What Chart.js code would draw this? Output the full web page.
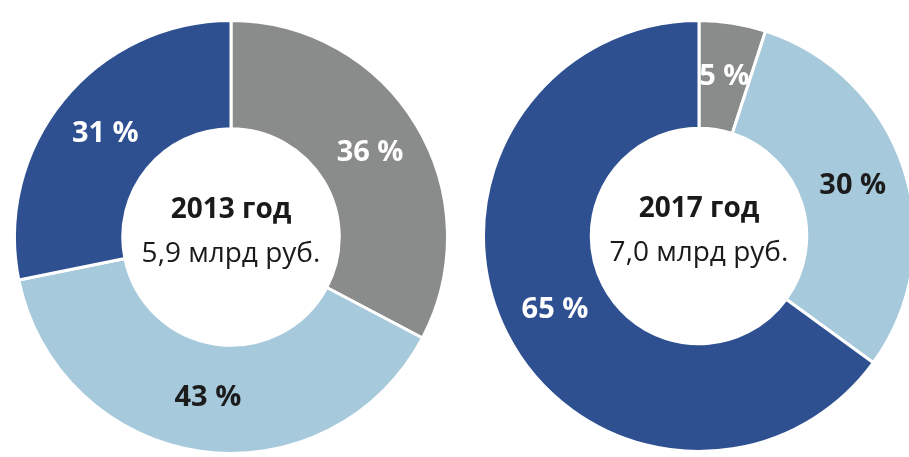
<!DOCTYPE html>
<html>
<head>
<meta charset="utf-8">
<script src="https://cdn.jsdelivr.net/npm/chart.js@4"></script>
<style>
  html, body { margin: 0; padding: 0; background: #fff; overflow: hidden; }
  body { width: 909px; height: 457px; position: relative; }
  .box { position: absolute; }
  #box2013 { left: 13px; top: 19px; width: 436px; height: 436px; }
  #box2017 { left: 482px; top: 19px; width: 434px; height: 434px; }
</style>
</head>
<body>
<div class="box" id="box2013"><canvas id="chart2013"></canvas></div>
<div class="box" id="box2017"><canvas id="chart2017"></canvas></div>
<script>
// data
var segments = ["Сегмент 1", "Сегмент 2", "Сегмент 3"];
var shares2013 = [36, 43, 31];
var shares2017 = [5, 30, 65];
var years = ["2013 год", "2017 год"];
var totals = ["5,9 млрд руб.", "7,0 млрд руб."];

var colors = ["#8a8c8c", "#a7c9dc", "#2e5091"];
var labelColors = ["#ffffff", "#1c1c1c", "#ffffff"];
var fontFamily = "'Open Sans', 'Noto Sans', sans-serif";

// draws the % labels on each slice and the year / total in the hole
var donutText = {
  id: 'donutText',
  afterDatasetsDraw: function (chart, args, opts) {
    var ctx = chart.ctx;
    var meta = chart.getDatasetMeta(0);
    var values = chart.data.datasets[0].data;
    ctx.save();
    ctx.textAlign = 'center';
    ctx.textBaseline = 'middle';
    ctx.font = 'bold 29px ' + fontFamily;
    meta.data.forEach(function (arc, i) {
      var p = arc.tooltipPosition();
      ctx.fillStyle = labelColors[i];
      ctx.fillText(values[i] + ' %', p.x, p.y);
    });
    var cx = (chart.chartArea.left + chart.chartArea.right) / 2;
    var cy = (chart.chartArea.top + chart.chartArea.bottom) / 2;
    ctx.fillStyle = '#1a1a1a';
    ctx.font = 'bold 28px ' + fontFamily;
    ctx.fillText(opts.year, cx, cy - 27);
    ctx.font = '28px ' + fontFamily;
    ctx.fillText(opts.total, cx, cy + 17);
    ctx.restore();
  }
};

function makeDonut(id, values, year, total) {
  return new Chart(document.getElementById(id), {
    type: 'doughnut',
    data: {
      labels: segments,
      datasets: [{
        data: values,
        backgroundColor: colors,
        borderColor: "#ffffff",
        borderWidth: 3,
      }]
    },
    options: {
      responsive: true,
      maintainAspectRatio: false,
      animation: false,
      cutout: '50%',
      layout: { padding: 0 },
      plugins: {
        legend: { display: false },
        tooltip: { enabled: false },
        donutText: { year: year, total: total },
      },
    },
    plugins: [donutText]
  });
}

var chartA = makeDonut("chart2013", shares2013, years[0], totals[0]);
var chartB = makeDonut("chart2017", shares2017, years[1], totals[1]);
</script>
</body>
</html>
